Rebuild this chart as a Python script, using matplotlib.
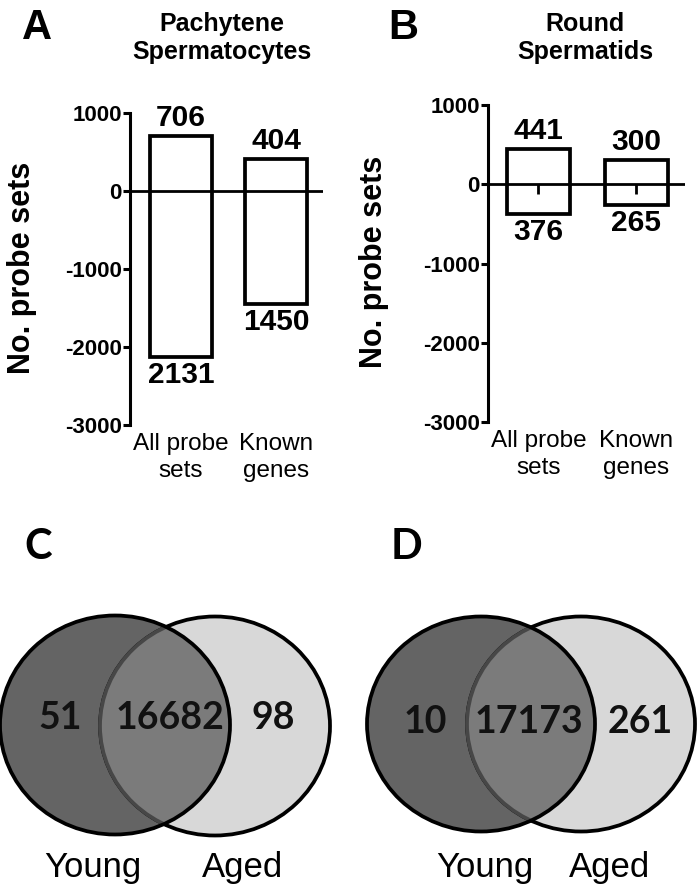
import numpy as np
import matplotlib
matplotlib.use("Agg")
import matplotlib.pyplot as plt
from matplotlib.patches import Ellipse

# bar panels: up (positive) and down (negative) probe set counts
categories = ["All probe\nsets", "Known\ngenes"]
pachytene_up = [706, 404]
pachytene_down = [2131, 1450]
round_up = [441, 300]
round_down = [376, 265]

# venn panels: only young, both, only aged
venn_groups = ["Young", "Aged"]
pachytene_venn = [51, 16682, 98]
round_venn = [10, 17173, 261]

W, H = 697, 889
plt.rcParams['font.family'] = ['Liberation Sans', 'DejaVu Sans']
plt.rcParams['axes.unicode_minus'] = False
fig = plt.figure(figsize=(W / 100, H / 100), dpi=100)


def box(l, t, r, b):
    return [l / W, 1 - b / H, (r - l) / W, (b - t) / H]


def fx(x):
    return x / W


def fy(y):
    return 1 - y / H


def bar_panel(rect, xlim, up, down, title, title_x, letter, letter_x, ylab_x, ylab_y, stubs=False):
    ax = fig.add_axes(rect)
    x = np.arange(len(categories))
    up = np.array(up)
    down = np.array(down)
    ax.bar(x, up + down, bottom=-down, width=0.65, facecolor="white",
           edgecolor="black", linewidth=2.7, zorder=3)
    ax.axhline(0, color="black", linewidth=2.0, zorder=4)
    if stubs:
        ax.vlines(x, -120, 0, color="black", linewidth=2.0, zorder=4)
    for xi, u, d in zip(x, up, down):
        ax.annotate(str(u), (xi, u), xytext=(0, 3), textcoords="offset points",
                    ha="center", va="bottom", fontsize=21.5, fontweight="bold")
        ax.annotate(str(d), (xi, -d), xytext=(0, -3), textcoords="offset points",
                    ha="center", va="top", fontsize=21.5, fontweight="bold")
    ax.set_ylim(-3000, 1000)
    ax.set_xlim(*xlim)
    ax.set_yticks([1000, 0, -1000, -2000, -3000])
    ax.set_xticks(x, categories)
    for s in ["top", "right", "bottom"]:
        ax.spines[s].set_visible(False)
    ax.spines["left"].set_linewidth(2.2)
    ax.spines["left"].set_bounds(-3000, 1000)
    ax.tick_params(axis="y", length=5, width=2.2, pad=1, labelsize=16)
    for lab in ax.get_yticklabels():
        lab.set_fontweight("bold")
    ax.tick_params(axis="x", length=0, pad=6, labelsize=17.5)
    for lab in ax.get_xticklabels():
        lab.set_linespacing(1.25)
    ax.set_ylabel("No. probe sets", fontsize=22, fontweight="bold")
    ax.yaxis.set_label_coords(fx(ylab_x), fy(ylab_y), transform=fig.transFigure)
    fig.text(fx(title_x), fy(38), title, ha="center", va="center",
             fontsize=18, fontweight="bold", linespacing=1.25)
    fig.text(fx(letter_x), fy(28), letter, ha="left", va="center",
             fontsize=30, fontweight="bold")
    return ax


axA = bar_panel(box(130, 113, 323, 425), (-0.537, 1.495), pachytene_up, pachytene_down,
                "Pachytene\nSpermatocytes", 222, "A", 22, 37, 268)
axB = bar_panel(box(488, 105, 685, 422), (-0.515, 1.495), round_up, round_down,
                "Round\nSpermatids", 585, "B", 388, 389, 262, stubs=True)

# venn panels drawn in pixel coordinates
av = fig.add_axes([0, 0, 1, 1])
av.set_xlim(0, W)
av.set_ylim(H, 0)
av.axis("off")


def venn(cl, cr, w, h, counts, text_x, text_y, label_x, letter, letter_x):
    left = Ellipse(cl, w, h, facecolor="#646464", edgecolor="none")
    right = Ellipse(cr, w, h, facecolor="#d8d8d8", edgecolor="none")
    av.add_patch(left)
    av.add_patch(right)
    av.add_patch(Ellipse(cr, w, h, facecolor="none", edgecolor="black", linewidth=2.7))
    both = Ellipse(cr, w, h, facecolor="#7b7b7b", edgecolor="#474747", linewidth=2.7)
    av.add_patch(both)
    both.set_clip_path(left)
    av.add_patch(Ellipse(cl, w, h, facecolor="none", edgecolor="black", linewidth=2.7))
    for c, tx in zip(counts, text_x):
        av.text(tx, text_y, str(c), ha="center", va="center", fontsize=27,
                fontweight="bold", family=["Lato", "DejaVu Sans"], color="#111111")
    for g, lx in zip(venn_groups, label_x):
        av.text(lx, 868, g, ha="center", va="center", fontsize=25)
    av.text(letter_x, 547, letter, ha="left", va="center", fontsize=30,
            fontweight="bold", family=["Lato", "DejaVu Sans"])


venn((115, 725), (215, 726), 230, 219, pachytene_venn, [60, 170, 273], 718, [93, 243], "C", 24)
venn((481, 724), (581, 724), 228, 215, round_venn, [425, 529, 640], 722, [485, 610], "D", 391)

fig.savefig("out.png", dpi=100)
